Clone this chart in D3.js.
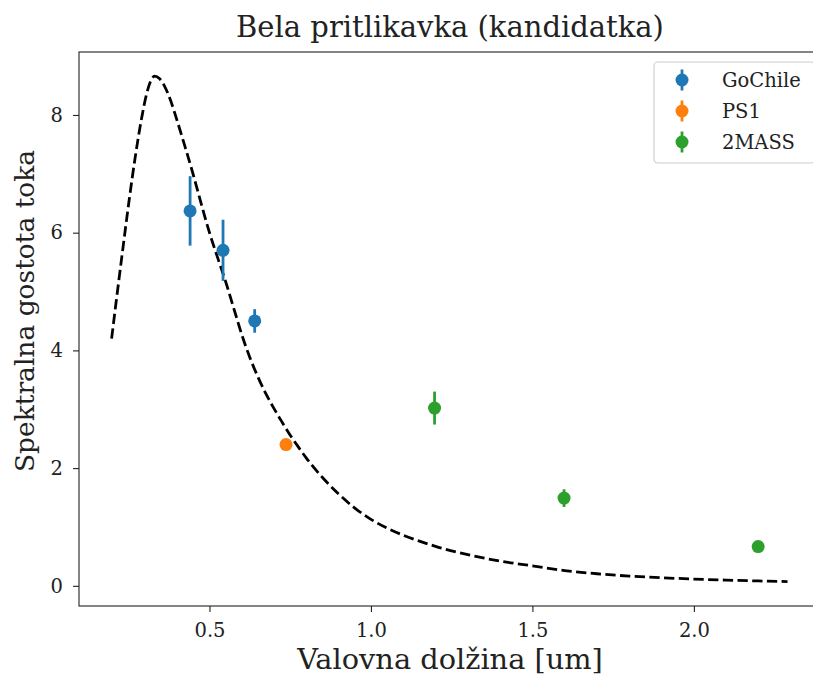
<!DOCTYPE html>
<html>
<head>
<meta charset="utf-8">
<script src="https://cdn.jsdelivr.net/npm/d3@7.9.0/dist/d3.min.js"></script>
<style>
  body { margin: 0; background: #fff; overflow: hidden; }
  svg { display: block; font-family: "DejaVu Serif", serif; }
</style>
</head>
<body>
<svg id="chart" width="813" height="675"></svg>
<script>
// ------------------- Data -------------------
// model curve (dashed)
const curveX = [0.197, 0.21, 0.23, 0.25, 0.27, 0.29, 0.305, 0.32, 0.33, 0.345, 0.36, 0.38, 0.40, 0.425, 0.45, 0.475, 0.50, 0.525, 0.55, 0.575, 0.60, 0.625, 0.65, 0.675, 0.70, 0.725, 0.75, 0.775, 0.80, 0.85, 0.90, 0.95, 1.00, 1.05, 1.10, 1.15, 1.20, 1.30, 1.40, 1.50, 1.60, 1.70, 1.80, 1.90, 2.00, 2.10, 2.20, 2.29];
const curveY = [4.20, 4.78, 5.65, 6.50, 7.28, 7.95, 8.35, 8.60, 8.66, 8.62, 8.50, 8.24, 7.90, 7.45, 6.98, 6.48, 6.00, 5.58, 5.17, 4.72, 4.27, 3.88, 3.55, 3.26, 3.01, 2.78, 2.56, 2.36, 2.17, 1.84, 1.56, 1.32, 1.13, 0.98, 0.86, 0.76, 0.67, 0.53, 0.42, 0.34, 0.26, 0.205, 0.165, 0.137, 0.115, 0.097, 0.083, 0.073];

const gochileX = [0.44, 0.542, 0.64];
const gochileY = [6.37, 5.70, 4.50];
const gochileErr = [0.59, 0.52, 0.20];

const ps1X = [0.737];
const ps1Y = [2.40];
const ps1Err = [0.04];

const twomassX = [1.197, 1.598, 2.199];
const twomassY = [3.02, 1.49, 0.667];
const twomassErr = [0.28, 0.15, 0.05];

const seriesNames = ['GoChile', 'PS1', '2MASS'];
const seriesColors = ['#1f77b4', '#ff7f0e', '#2ca02c'];

const xTicks = [0.5, 1.0, 1.5, 2.0];
const yTicks = [0, 2, 4, 6, 8];

const title = 'Bela pritlikavka (kandidatka)';
const xLabel = 'Valovna dolžina [um]';
const yLabel = 'Spektralna gostota toka';

// ------------------- Layout -------------------
// the right edge of the axes falls just outside the picture
const plot = { left: 79, right: 825, top: 52, bottom: 606 };
const svg = d3.select('#chart');

const xScale = d3.scaleLinear().domain([0.096, 2.406]).range([plot.left, plot.right]);
const yScale = d3.scaleLinear().domain([-0.343, 9.07]).range([plot.bottom, plot.top]);

// ------------------- Axes -------------------
const xAxis = svg.append('g')
  .attr('transform', `translate(0,${plot.bottom})`)
  .call(d3.axisBottom(xScale).tickValues(xTicks).tickFormat(d3.format('.1f')).tickSize(6).tickPadding(11));

const yAxis = svg.append('g')
  .attr('transform', `translate(${plot.left},0)`)
  .call(d3.axisLeft(yScale).tickValues(yTicks).tickFormat(d3.format('d')).tickSize(6).tickPadding(10));

[xAxis, yAxis].forEach(ax => {
  ax.select('.domain').remove();
  ax.selectAll('.tick line').attr('stroke', '#222').attr('stroke-width', 1.1);
  ax.selectAll('.tick text')
    .attr('fill', '#222')
    .style('font-family', '"DejaVu Serif", serif')
    .style('font-size', '19.5px');
});

svg.append('rect')
  .attr('x', plot.left).attr('y', plot.top)
  .attr('width', plot.right - plot.left).attr('height', plot.bottom - plot.top)
  .attr('fill', 'none').attr('stroke', '#222').attr('stroke-width', 1.1);

// ------------------- Model curve -------------------
const curveData = curveX.map((x, i) => ({ x, y: curveY[i] }));
const line = d3.line().x(d => xScale(d.x)).y(d => yScale(d.y)).curve(d3.curveMonotoneX);

svg.append('path')
  .datum(curveData)
  .attr('d', line)
  .attr('fill', 'none')
  .attr('stroke', '#000')
  .attr('stroke-width', 2.78)
  .attr('stroke-dasharray', '10.3 4.4');

// ------------------- Error bars -------------------
const series = [
  { xs: gochileX, ys: gochileY, errs: gochileErr },
  { xs: ps1X, ys: ps1Y, errs: ps1Err },
  { xs: twomassX, ys: twomassY, errs: twomassErr },
].map((s, k) => ({
  name: seriesNames[k],
  color: seriesColors[k],
  points: s.xs.map((x, i) => ({ x, y: s.ys[i], err: s.errs[i] })),
}));

series.forEach(s => {
  const g = svg.append('g');
  g.selectAll('line')
    .data(s.points)
    .join('line')
    .attr('x1', d => xScale(d.x)).attr('x2', d => xScale(d.x))
    .attr('y1', d => yScale(d.y - d.err)).attr('y2', d => yScale(d.y + d.err))
    .attr('stroke', s.color)
    .attr('stroke-width', 2.78);
  g.selectAll('circle')
    .data(s.points)
    .join('circle')
    .attr('cx', d => xScale(d.x))
    .attr('cy', d => yScale(d.y))
    .attr('r', 6.5)
    .attr('fill', s.color);
});

// ------------------- Legend -------------------
const legend = svg.append('g');
legend.append('rect')
  .attr('x', 654).attr('y', 62).attr('width', 161).attr('height', 101)
  .attr('rx', 4)
  .attr('fill', '#fff').attr('fill-opacity', 0.8)
  .attr('stroke', '#ccc').attr('stroke-width', 1.1);

const rows = legend.selectAll('g.row')
  .data(series)
  .join('g')
  .attr('class', 'row')
  .attr('transform', (d, i) => `translate(682,${80 + i * 31})`);

rows.append('line')
  .attr('y1', -10.5).attr('y2', 10.5)
  .attr('stroke', d => d.color).attr('stroke-width', 2.78);
rows.append('circle').attr('r', 6.5).attr('fill', d => d.color);
rows.append('text')
  .attr('x', 40).attr('dy', '0.35em')
  .attr('fill', '#222')
  .style('font-size', '19.5px')
  .text(d => d.name);

// ------------------- Labels -------------------
svg.append('text')
  .attr('x', 450).attr('y', 37)
  .attr('text-anchor', 'middle')
  .attr('fill', '#222')
  .style('font-size', '29px')
  .text(title);

svg.append('text')
  .attr('x', 450).attr('y', 668.5)
  .attr('text-anchor', 'middle')
  .attr('fill', '#222')
  .style('font-size', '28.8px')
  .text(xLabel);

svg.append('text')
  .attr('transform', 'translate(34,311) rotate(-90)')
  .attr('text-anchor', 'middle')
  .attr('fill', '#222')
  .style('font-size', '26.5px')
  .text(yLabel);
</script>
</body>
</html>
